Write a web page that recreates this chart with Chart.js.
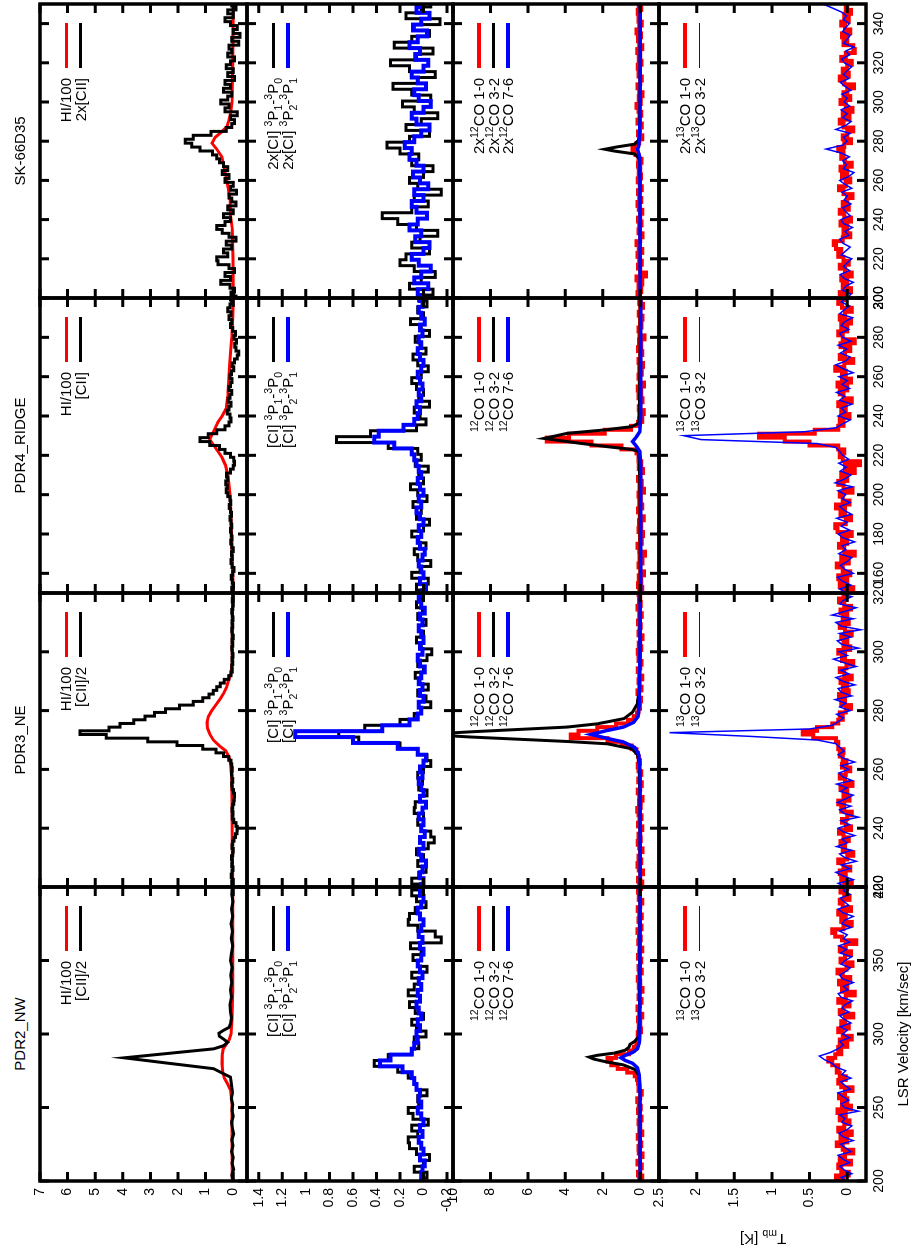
<!DOCTYPE html>
<html>
<head>
<meta charset="utf-8">
<script src="https://cdn.jsdelivr.net/npm/chart.js@4.4.1/dist/chart.umd.min.js"></script>
<style>
  html, body { margin: 0; padding: 0; background: #fff; }
  body { width: 913px; height: 1258px; overflow: hidden; position: relative; }
  /* the figure is laid out in landscape and turned a quarter turn counter-clockwise */
  #fig { position: absolute; left: 0; top: 0; width: 1258px; height: 913px;
         transform-origin: 0 0; transform: translate(0px, 1258px) rotate(-90deg);
         font-family: "Liberation Sans", Arial, Helvetica, sans-serif; color: #000; background: #fff; }
  .title { position: absolute; font-size: 15px; white-space: nowrap; transform: translate(-50%, -50%); }
  .key { position: absolute; font-size: 15px; line-height: 16px; white-space: nowrap; text-align: right; }
  .key sup, .key sub, .title sub { font-size: 70%; line-height: 0; }
  .swatch { position: absolute; }
</style>
</head>
<body>
<div id="fig"></div>
<script>
// ---------- velocity channel grids (km/s) ----------
const velNW = [200,202.5,205,207.5,210,212.5,215,217.5,220,222.5,225,227.5,230,232.5,235,237.5,240,242.5,245,247.5,250,252.5,255,257.5,260,262.5,265,267.5,270,272.5,275,277.5,280,282.5,285,287.5,290,292.5,295,297.5,300,302.5,305,307.5,310,312.5,315,317.5,320,322.5,325,327.5,330,332.5,335,337.5,340,342.5,345,347.5,350,352.5,355,357.5,360,362.5,365,367.5,370,372.5,375,377.5,380,382.5,385,387.5,390,392.5,395,397.5,400];
const velNWci = [200,204,208,212,216,220,224,228,232,236,240,244,248,252,256,260,264,268,272,276,280,284,288,292,296,300,304,308,312,316,320,324,328,332,336,340,344,348,352,356,360,364,368,372,376,380,384,388,392,396,400];
const velNE = [220,221.25,222.5,223.75,225,226.25,227.5,228.75,230,231.25,232.5,233.75,235,236.25,237.5,238.75,240,241.25,242.5,243.75,245,246.25,247.5,248.75,250,251.25,252.5,253.75,255,256.25,257.5,258.75,260,261.25,262.5,263.75,265,266.25,267.5,268.75,270,271.25,272.5,273.75,275,276.25,277.5,278.75,280,281.25,282.5,283.75,285,286.25,287.5,288.75,290,291.25,292.5,293.75,295,296.25,297.5,298.75,300,301.25,302.5,303.75,305,306.25,307.5,308.75,310,311.25,312.5,313.75,315,316.25,317.5,318.75,320];
const velNEci = [220,222,224,226,228,230,232,234,236,238,240,242,244,246,248,250,252,254,256,258,260,262,264,266,268,270,272,274,276,278,280,282,284,286,288,290,292,294,296,298,300,302,304,306,308,310,312,314,316,318,320];
const velRG = [150,152,154,156,158,160,162,164,166,168,170,172,174,176,178,180,182,184,186,188,190,192,194,196,198,200,202,204,206,208,210,212,214,216,218,220,222,224,226,228,230,232,234,236,238,240,242,244,246,248,250,252,254,256,258,260,262,264,266,268,270,272,274,276,278,280,282,284,286,288,290,292,294,296,298,300];
const velRGci = [150,153,156,159,162,165,168,171,174,177,180,183,186,189,192,195,198,201,204,207,210,213,216,219,222,225,228,231,234,237,240,243,246,249,252,255,258,261,264,267,270,273,276,279,282,285,288,291,294,297,300];
const velSK = [200,202,204,206,208,210,212,214,216,218,220,222,224,226,228,230,232,234,236,238,240,242,244,246,248,250,252,254,256,258,260,262,264,266,268,270,272,274,276,278,280,282,284,286,288,290,292,294,296,298,300,302,304,306,308,310,312,314,316,318,320,322,324,326,328,330,332,334,336,338,340,342,344,346,348,350];
const velSKci = [200,203,206,209,212,215,218,221,224,227,230,233,236,239,242,245,248,251,254,257,260,263,266,269,272,275,278,281,284,287,290,293,296,299,302,305,308,311,314,317,320,323,326,329,332,335,338,341,344,347,350];

// ---------- PDR2_NW spectra (T_mb, K) ----------
const hiNW = [[200,0.03],[230,0.04],[255,0.05],[262,0.1],[266,0.2],[270,0.32],[274,0.38],[280,0.41],[286,0.4],[290,0.36],[293,0.25],[296,0.15],[300,0.08],[310,0.04],[330,0.02],[360,0.02],[400,0.02]];
const ciiNW = [[200,0.0],[204,0.05],[208,-0.02],[212,0.04],[216,0.0],[220,0.06],[224,0.01],[228,0.05],[232,-0.02],[236,0.03],[240,0.06],[244,0.0],[248,0.04],[252,0.02],[256,0.07],[260,0.03],[264,0.05],[268,0.08],[270.7,0.1],[272.5,0.3],[276.4,0.71],[280,2.3],[283.8,3.95],[287,2.25],[289.9,0.71],[292,0.35],[294.4,0.2],[296.5,0.35],[298.5,0.5],[300.5,0.52],[302.5,0.35],[304.5,0.15],[307,0.1],[311,0.06],[315,0.1],[320,0.12],[325,0.06],[330,0.1],[335,0.05],[340,0.09],[345,0.04],[350,0.1],[355,0.06],[360,0.02],[365,0.07],[370,0.03],[375,0.08],[380,0.02],[385,0.06],[390,0.01],[395,0.05],[400,0.03]];
const ciNW10 = [0.02,-0.03,0.08,0.0,-0.05,0.06,0.12,0.13,0.05,0.1, -0.04,0.09,0.13,0.04,0.05,-0.03,0.06,0.08,0.13,0.22, 0.42,0.3,0.1,0.04,0.08,-0.02,0.06,0.1,0.0,0.07, 0.12,0.03,0.13,0.08,0.04,0.1,-0.03,0.05,0.09,0.02, 0.11,-0.15,-0.1,0.05,0.13,0.12,0.07,-0.02,0.06,0.1, 0.03];
const ciNW21 = [0.0,0.02,0.01,-0.01,0.03,0.0,0.02,0.04,0.01,0.03, 0.0,0.02,0.05,0.02,0.04,0.03,0.06,0.08,0.1,0.18, 0.37,0.28,0.1,0.08,0.05,0.06,0.03,0.05,0.02,0.04, 0.06,0.03,0.05,0.02,0.04,0.01,0.03,0.05,0.02,0.0, 0.03,0.01,0.04,0.02,0.0,0.03,0.05,0.02,0.0,0.03, 0.01];
const co12NW10 = [0.05,-0.1,0.12,0.0,-0.08,0.15,0.02,-0.12,0.08,0.1, -0.05,0.03,0.14,-0.1,0.06,0.0,0.1,-0.06,0.04,0.12, -0.03,0.08,0.16,0.0,-0.08,0.1,0.05,0.12,0.18,0.3, 0.7,1.2,1.55,1.75,1.3,0.6,0.35,0.22,0.12,0.05, 0.14,-0.04,0.08,0.0,0.12,-0.1,0.06,0.15,0.02,-0.06, 0.1,0.04,-0.12,0.08,0.0,0.14,0.05,-0.08,0.1,0.02, -0.05,0.12,0.06,-0.1,0.04,0.11,-0.02,0.07,0.15,-0.06, 0.03,0.1,-0.08,0.05,0.13,0.0,-0.1,0.08,0.02,0.12, -0.04];
const co12NW32 = [[200,0.0],[240,0.02],[265,0.03],[272,0.08],[276,0.3],[279,0.9],[281,1.8],[283,2.5],[284.3,2.73],[285.5,2.3],[287,1.4],[289,0.8],[291,0.6],[293,0.55],[295,0.3],[298,0.1],[305,0.05],[340,0.03],[400,0.02]];
const co12NW76 = [[200,0.0],[260,0.02],[272,0.05],[277,0.15],[280,0.4],[282,0.8],[283.8,1.03],[285.5,0.8],[287.5,0.4],[290,0.15],[294,0.06],[300,0.03],[400,0.0]];
const co13NW10 = [0.05,0.15,-0.02,0.08,0.12,-0.05,0.1,0.03,-0.08,0.06, 0.14,0.0,0.09,-0.06,0.12,0.04,-0.03,0.1,0.02,0.13, -0.05,0.07,0.0,0.11,0.03,-0.07,0.08,0.12,0.02,0.1, 0.14,0.12,0.2,0.25,0.16,0.08,0.12,0.0,0.1,-0.06, 0.06,0.12,-0.02,0.08,0.03,-0.08,0.1,0.05,-0.03,0.12, 0.02,-0.1,0.07,0.0,0.11,-0.04,0.06,0.13,0.01,-0.07, 0.09,0.03,-0.05,0.1,0.02,-0.12,0.07,0.16,0.2,0.05, -0.06,0.08,0.02,0.12,-0.05,0.06,0.1,-0.03,0.04,0.09, 0.0];
const co13NW32 = [0.0,0.08,-0.06,0.04,0.1,-0.03,0.06,0.12,-0.05,0.02, 0.09,-0.08,0.05,0.11,0.0,-0.06,0.07,0.03,0.1,-0.15, 0.04,0.08,-0.02,0.06,0.12,-0.04,0.03,0.09,-0.05,0.07, 0.02,0.15,0.2,0.3,0.37,0.22,0.12,0.05,0.1,-0.03, 0.06,0.0,0.09,-0.05,0.04,0.1,-0.02,0.07,0.03,-0.07, 0.08,0.12,-0.01,0.05,-0.08,0.06,0.1,0.02,-0.04,0.08, 0.03,-0.06,0.09,0.01,0.11,-0.03,0.05,0.0,0.1,-0.05, 0.07,0.03,-0.08,0.06,0.12,-0.02,0.04,0.09,-0.04,0.05, 0.02];

// ---------- PDR3_NE spectra ----------
const hiNE = [[220,0.02],[235,0.03],[250,0.04],[258,0.06],[262,0.1],[264,0.14],[266.4,0.28],[268,0.5],[270,0.72],[272,0.85],[274,0.93],[276,0.95],[278,0.9],[280,0.78],[282.3,0.6],[284,0.47],[285.8,0.35],[288,0.24],[290.3,0.17],[292.6,0.08],[296,0.04],[305,0.03],[320,0.02]];
const ciiNE = [0.02,0.05,0.03,0.07,0.04,0.01,0.05,0.03,0.06,0.02, 0.0,0.04,0.02,-0.03,-0.08,-0.14,-0.15,-0.1,-0.02,0.03, 0.01,0.04,0.02,-0.02,-0.04,-0.05,-0.01,0.03,0.05,0.02, 0.04,0.06,0.03,0.05,0.08,0.16,0.35,0.62,1.1,2.04, 3.1,4.6,5.55,4.5,4.1,3.6,3.2,2.85,2.45,1.95, 1.45,1.1,0.88,0.72,0.6,0.47,0.32,0.16,0.08,0.03, 0.05,0.02,0.04,0.01,0.03,0.05,0.02,0.04,0.0,0.03, 0.05,0.02,0.04,0.01,0.03,0.05,0.02,0.0,0.03,0.01, 0.02];
const ciNE10 = [0.03,0.1,0.04,-0.02,0.05,0.0,0.06,-0.04,-0.09,-0.06, 0.02,0.05,0.0,0.08,0.07,0.03,-0.03,0.04,0.01,0.05, 0.0,-0.06,-0.03,0.05,0.2,0.55,0.72,0.5,0.2,0.08, 0.02,-0.06,-0.02,0.05,-0.04,0.03,0.07,0.0,0.05,-0.03, -0.07,0.02,0.06,0.0,0.04,-0.02,0.05,0.01,0.06,0.02, 0.03];
const ciNE21 = [0.02,0.0,0.03,0.01,-0.02,0.02,0.04,0.0,0.03,-0.01, 0.02,0.0,0.04,0.01,-0.02,0.03,0.0,0.02,0.04,0.01, 0.03,0.0,-0.02,0.05,0.22,0.6,1.09,0.35,0.12,0.05, 0.02,0.04,0.0,0.03,0.01,0.04,0.02,-0.01,0.03,0.05, 0.01,0.03,0.0,0.02,0.04,0.01,0.03,-0.01,0.02,0.04, 0.01];
const co12NE10 = [0.05,-0.1,0.12,0.0,-0.15,0.08,0.15,-0.05,0.1,0.02, -0.12,0.06,0.14,-0.03,0.09,0.0,-0.1,0.12,0.04,-0.06, 0.1,0.16,-0.02,0.07,-0.12,0.05,0.13,0.0,-0.08,0.11, 0.03,-0.05,0.09,0.14,0.02,0.08,0.12,0.2,0.45,1.0, 1.75,3.71,3.3,2.3,1.3,0.65,0.35,0.18,0.1,0.02, 0.12,-0.04,0.07,0.15,-0.06,0.04,0.1,-0.1,0.06,0.13, 0.0,-0.07,0.09,0.03,0.14,-0.05,0.08,0.0,-0.12,0.1, 0.04,-0.03,0.12,0.06,-0.08,0.05,0.15,-0.02,0.07,0.0, 0.1];
const co12NE32 = [[220,0.0],[250,0.02],[262,0.05],[265,0.15],[267,0.45],[268.7,1.75],[269.5,3.9],[271,9.0],[271.9,11.5],[272.8,9.0],[274.4,3.9],[275.5,2.3],[277.3,0.86],[279.5,0.41],[282.3,0.16],[287,0.05],[300,0.02],[320,0.0]];
const co12NE76 = [[220,0.0],[260,0.02],[265,0.08],[267.5,0.3],[269.3,0.9],[270.6,1.8],[271.9,2.64],[273.2,1.8],[274.4,0.9],[276,0.35],[278,0.12],[282,0.05],[300,0.02],[320,0.0]];
const co13NE10 = [0.04,-0.06,0.08,0.02,0.1,-0.04,0.05,0.12,0.0,-0.08, 0.06,0.03,0.09,-0.02,0.05,0.11,-0.05,0.02,0.07,0.0, -0.06,0.08,0.04,0.12,-0.03,0.05,0.0,0.09,-0.07,0.03, 0.1,0.02,-0.04,0.07,0.01,0.06,0.1,0.05,0.12,0.12, 0.15,0.45,0.59,0.4,0.2,0.12,0.06,0.1,0.02,-0.05, 0.08,0.03,0.11,-0.02,0.06,0.0,0.09,-0.06,0.04,0.1, 0.01,-0.08,0.07,0.03,0.12,-0.04,0.05,0.0,0.08,-0.06, 0.03,0.1,-0.02,0.06,0.0,0.09,-0.05,0.04,0.11,0.02, 0.05];
const co13NE32 = [0.02,0.12,-0.08,0.05,0.15,-0.04,0.08,-0.12,0.03,0.1, -0.06,0.14,0.0,0.07,-0.1,0.05,0.12,-0.03,0.08,-0.15, 0.04,0.1,-0.05,0.13,0.02,-0.08,0.09,0.0,0.14,-0.06, 0.06,0.11,-0.02,0.08,-0.1,0.05,0.12,0.04,0.1,0.15, 0.4,1.3,2.36,0.5,0.2,0.12,0.05,0.14,-0.04,0.1, 0.02,0.16,-0.06,0.08,0.12,-0.1,0.06,0.15,-0.02,0.09, -0.12,0.04,0.18,0.0,0.11,-0.15,0.07,0.13,-0.05,0.1, -0.18,0.08,0.15,-0.08,0.2,0.03,-0.12,0.1,0.05,-0.06, 0.12];

// ---------- PDR4_RIDGE spectra ----------
const hiRG = [[150,0.0],[160,0.02],[170,0.04],[180,0.06],[190,0.08],[200,0.12],[205,0.15],[210,0.2],[215,0.28],[219,0.41],[222,0.55],[225,0.7],[228,0.85],[231,0.75],[234,0.65],[237,0.55],[240,0.4],[244,0.25],[250,0.2],[258,0.16],[265,0.13],[272,0.1],[280,0.05],[290,0.02],[300,0.0]];
const ciiRG = [0.02,0.05,-0.01,0.03,0.07,0.02,-0.03,0.04,0.08,0.03, 0.06,0.0,0.05,0.09,0.04,0.07,0.1,0.05,0.08,0.12, 0.06,0.1,0.14,0.09,0.12,0.2,0.25,0.22,0.27,0.2, 0.24,0.1,0.0,-0.05,-0.02,0.1,0.3,0.5,0.85,1.2, 0.9,0.6,0.3,0.15,0.08,0.12,0.22,0.15,0.08,0.18, 0.12,0.05,0.15,0.1,0.04,0.12,0.06,-0.02,0.03,-0.05, -0.15,-0.2,-0.1,-0.06,-0.12,-0.03,-0.08,0.02,0.1,0.05, 0.15,0.08,0.2,0.12,0.05,0.1];
const ciRG10 = [0.0,0.06,-0.04,0.1,0.03,-0.06,0.05,0.08,-0.02,0.04, 0.1,0.0,-0.05,0.06,0.02,0.09,-0.03,0.05,0.11,0.0, 0.04,-0.04,0.07,0.02,0.05,0.3,0.74,0.45,0.06,-0.02, 0.03,0.08,-0.05,0.04,0.0,0.06,0.1,0.02,-0.04,0.05, 0.09,-0.02,0.03,0.07,-0.05,0.02,0.11,0.0,0.05,-0.03, 0.04];
const ciRG21 = [0.01,-0.02,0.03,0.0,0.02,0.04,0.01,-0.01,0.03,0.05, 0.02,0.04,0.0,0.03,0.06,0.02,0.04,0.0,0.03,0.05, 0.02,0.04,0.06,0.08,0.1,0.25,0.42,0.38,0.17,0.08, 0.05,0.03,0.06,0.02,0.04,0.01,0.03,0.05,0.02,0.0, 0.03,0.05,0.02,0.04,0.01,0.03,-0.01,0.02,0.04,0.01, 0.03];
const co12RG10 = [0.05,-0.1,0.12,-0.05,0.08,-0.2,0.0,0.1,-0.12,0.04, -0.25,0.06,0.15,-0.08,0.02,-0.15,0.1,-0.05,0.07,-0.18, 0.03,0.12,-0.1,0.05,-0.03,0.1,-0.2,0.04,-0.08,0.12, 0.0,-0.15,0.08,-0.05,0.1,0.05,0.2,1.0,2.6,5.0, 3.8,1.9,0.5,0.12,-0.1,0.05,-0.18,0.08,0.0,-0.12, 0.1,-0.05,0.14,-0.2,0.03,0.09,-0.08,0.05,-0.15,0.1, 0.0,-0.1,0.12,-0.05,0.07,-0.22,0.04,0.1,-0.06,0.02, -0.12,0.08,0.0,-0.15,0.06,-0.03];
const co12RG32 = [[150,0.0],[200,0.02],[218,0.05],[222,0.1],[223,0.44],[224.4,1.75],[226.1,3.2],[228.6,5.14],[231.2,3.9],[232.9,1.93],[234.6,0.45],[236.3,0.1],[240,0.05],[270,0.02],[300,0.0]];
const co12RG76 = [[150,-0.02],[215,-0.02],[222,0.03],[224.5,0.2],[227,0.41],[229.5,0.2],[232,0.03],[240,-0.02],[300,-0.03]];
const co13RG10 = [0.05,-0.08,0.1,0.0,0.12,-0.04,0.06,0.14,-0.02,0.08, -0.1,0.04,0.11,0.0,0.07,-0.06,0.13,0.16,0.02,-0.05, 0.09,0.03,0.15,-0.03,0.06,0.1,-0.07,0.05,0.12,0.0, 0.08,-0.1,0.03,-0.17,0.06,0.1,0.04,0.12,0.5,0.83, 1.17,0.43,0.12,0.05,0.1,-0.03,0.08,0.02,0.12,-0.06, 0.05,0.1,0.0,0.13,-0.05,0.07,0.02,0.16,0.04,-0.08, 0.1,0.03,-0.04,0.09,-0.1,0.06,0.12,0.0,0.08,-0.05, 0.1,0.03,-0.06,0.07,0.12,0.02];
const co13RG32 = [0.0,0.1,-0.05,0.06,0.13,-0.08,0.03,0.09,0.0,-0.06, 0.11,0.02,0.07,-0.1,0.05,0.12,-0.03,0.08,0.0,0.14, -0.06,0.04,0.1,-0.04,0.07,0.02,0.12,-0.07,0.16,0.03, -0.05,0.09,0.01,0.11,-0.02,0.06,0.1,0.15,0.4,1.94, 2.17,0.57,0.15,0.06,-0.04,0.12,0.02,0.08,-0.06,0.1, 0.03,0.14,-0.03,0.07,0.0,0.11,-0.08,0.05,0.15,0.02, -0.04,0.09,0.0,0.12,-0.05,0.06,0.1,-0.02,0.08,0.03, -0.07,0.1,0.04,-0.03,0.08,0.01];

// ---------- SK-66D35 spectra ----------
const hiSK = [[200,0.0],[220,0.01],[235,0.03],[242,0.1],[250,0.12],[256,0.18],[260,0.23],[266,0.32],[272,0.41],[276,0.6],[279,0.77],[282,0.65],[285,0.4],[287.4,0.23],[291,0.15],[294,0.1],[300,0.04],[320,0.02],[350,0.0]];
const ciiSK = [-0.1,0.08,-0.05,0.12,0.45,0.1,0.3,-0.05,0.15,0.55, 0.6,0.2,0.35,0.05,0.25,-0.1,0.15,0.4,0.6,0.3, 0.1,0.35,0.0,0.2,-0.1,0.05,0.15,-0.12,0.1,0.0, 0.3,0.15,0.4,0.2,0.35,0.5,0.6,0.75,1.2,1.5, 1.74,1.45,0.8,0.25,0.05,-0.05,0.1,-0.15,0.3,0.15, 0.45,0.2,0.05,0.35,0.1,0.3,-0.05,0.2,0.0,0.25, 0.1,-0.05,0.2,0.05,0.15,-0.2,0.05,-0.25,0.0,-0.15, 0.1,0.3,0.0,0.2,-0.1,0.05];
const ciSK10 = [0.05,-0.08,0.12,0.02,-0.1,0.08,0.2,0.15,-0.05,0.1, 0.03,-0.12,0.06,0.22,0.35,0.1,-0.04,0.08,-0.15,0.05, 0.12,0.0,-0.08,0.1,0.04,0.2,0.31,0.12,-0.05,0.15, 0.02,-0.12,0.08,0.18,-0.06,0.1,0.26,0.05,-0.1,0.12, 0.28,0.06,-0.08,0.25,0.1,-0.05,0.08,-0.14,0.15,0.02, -0.06];
const ciSK21 = [0.0,0.05,-0.04,0.08,0.02,-0.06,0.04,0.1,0.0,-0.05, 0.07,0.02,0.12,0.05,-0.03,0.06,0.1,0.0,0.08,-0.04, 0.03,0.09,0.0,0.06,0.12,0.1,0.16,0.08,0.02,-0.05, 0.06,0.1,0.0,-0.06,0.04,0.08,-0.02,0.05,0.1,0.0, -0.04,0.07,0.03,0.12,0.05,-0.03,0.09,0.02,-0.05,0.06, 0.03];
const co12SK10 = [0.05,0.15,-0.05,0.1,-0.1,0.2,-0.3,0.0,0.12,-0.08, 0.05,0.15,-0.1,0.08,0.2,0.0,-0.12,0.1,0.05,-0.06, 0.12,0.0,-0.1,0.08,0.15,-0.05,0.06,0.12,-0.08,0.03, 0.14,-0.04,0.08,0.0,0.12,-0.06,0.1,0.25,0.41,0.2, 0.05,-0.1,0.12,0.02,-0.08,0.15,0.04,-0.05,0.1,0.2, -0.02,0.08,-0.12,0.05,0.15,0.0,-0.08,0.1,0.03,0.14, -0.06,0.08,0.0,0.16,-0.1,0.05,0.12,-0.04,0.2,0.06, -0.08,0.1,0.02,0.14,-0.05,0.08];
const co12SK32 = [[200,0.0],[260,0.02],[271,0.05],[273.5,0.3],[275,1.4],[275.9,1.89],[277,1.3],[278.5,0.3],[281,0.05],[300,0.02],[350,0.0]];
const co12SK76 = [[200,0.0],[240,0.02],[272,0.03],[274.5,0.1],[276,0.14],[277.5,0.08],[282,0.05],[290,0.02],[350,0.0]];
const co13SK10 = [0.02,0.1,-0.05,0.06,0.0,0.08,-0.06,0.03,0.1,-0.02, 0.05,0.12,0.08,0.15,0.18,0.06,-0.04,0.05,0.0,0.09, -0.05,0.04,0.1,-0.02,0.06,0.0,-0.07,0.05,0.11,0.02, -0.04,0.07,0.0,0.09,-0.06,0.03,0.08,0.05,0.12,0.04, -0.05,0.06,0.0,-0.08,0.05,0.1,-0.03,0.06,-0.07,0.02, 0.09,-0.04,0.05,0.0,-0.09,0.04,0.1,-0.02,0.06,0.0, -0.06,0.08,0.02,-0.1,-0.08,0.05,0.0,0.07,-0.04,0.03, 0.08,-0.02,0.04,-0.05,0.02,0.0];
const co13SK32 = [0.0,-0.05,0.06,0.02,-0.08,0.04,0.09,-0.03,0.05,0.0, -0.06,0.08,0.02,-0.04,0.06,0.1,-0.02,0.03,-0.07,0.05, 0.08,-0.04,0.02,0.06,-0.05,0.04,0.0,0.07,-0.06,0.03, 0.1,-0.02,-0.09,0.05,0.01,0.06,-0.03,0.08,0.28,0.06, 0.0,0.05,-0.04,0.15,0.02,-0.05,0.06,0.0,0.08,-0.03, 0.04,0.0,0.07,-0.05,0.03,0.09,-0.02,0.05,0.0,-0.06, 0.04,0.07,-0.03,0.02,-0.09,0.05,0.0,-0.04,0.06,0.02, -0.03,0.05,0.01,0.08,0.2,0.32];

// ---------- tick values ----------
const velTicksNW = [200,250,300,350,400];
const velTicksNE = [220,240,260,280,300,320];
const velTicksRG = [160,180,200,220,240,260,280,300];
const velTicksSK = [200,220,240,260,280,300,320,340];
const tmbTicksCII = [0,1,2,3,4,5,6,7];
const tmbTicksCI = [-0.2,0,0.2,0.4,0.6,0.8,1,1.2,1.4];
const tmbTicksCO12 = [0,2,4,6,8,10];
const tmbTicksCO13 = [0,0.5,1,1.5,2,2.5];

// ---------- series names ----------
const sources = ['PDR2_NW','PDR3_NE','PDR4_RIDGE','SK-66D35'];
const nameCI10 = '[CI] <sup>3</sup>P<sub>1</sub>-<sup>3</sup>P<sub>0</sub>';
const nameCI21 = '[CI] <sup>3</sup>P<sub>2</sub>-<sup>3</sup>P<sub>1</sub>';
const name12_10 = '<sup>12</sup>CO 1-0', name12_32 = '<sup>12</sup>CO 3-2', name12_76 = '<sup>12</sup>CO 7-6';
const name13_10 = '<sup>13</sup>CO 1-0', name13_32 = '<sup>13</sup>CO 3-2';

// ---------- layout ----------
const colEdges = [77, 371, 665, 960, 1254];
const rowEdges = [40, 247, 453, 659, 866];
const RED = '#ff0000', BLACK = '#000000', BLUE = '#0000ff';
const FONT = "'Liberation Sans', Arial, Helvetica, sans-serif";

const columns = [
  { vmin: 200, vmax: 400, ticks: velTicksNW },
  { vmin: 220, vmax: 320, ticks: velTicksNE },
  { vmin: 150, vmax: 300, ticks: velTicksRG },
  { vmin: 200, vmax: 350, ticks: velTicksSK }
];
const rows = [
  { min: -0.5, max: 7, ticks: tmbTicksCII },
  { min: -0.25, max: 1.5, ticks: tmbTicksCI },
  { min: -1, max: 10, ticks: tmbTicksCO12 },
  { min: -0.25, max: 2.5, ticks: tmbTicksCO13 }
];

// histogram-style spectrum on a channel grid
const S = (label, color, w, xs, ys) => ({ label, color, w, step: true, data: ys.map((y, i) => ({ x: xs[i], y })) });
// spectrum on a channel grid, joined point to point
const L = (label, color, w, xs, ys) => ({ label, color, w, step: false, data: ys.map((y, i) => ({ x: xs[i], y })) });
// spectrum given as (velocity, T) pairs, drawn as a line
const P = (label, color, w, pairs) => ({ label, color, w, step: false, data: pairs.map(([x, y]) => ({ x, y })) });

const panels = [
  [
    [P('HI/100', RED, 3, hiNW), P('[CII]/2', BLACK, 3, ciiNW)],
    [P('HI/100', RED, 3, hiNE), S('[CII]/2', BLACK, 3, velNE, ciiNE)],
    [P('HI/100', RED, 3, hiRG), S('[CII]', BLACK, 3, velRG, ciiRG)],
    [P('HI/100', RED, 3, hiSK), S('2x[CII]', BLACK, 3, velSK, ciiSK)]
  ],
  [
    [S(nameCI10, BLACK, 3, velNWci, ciNW10), S(nameCI21, BLUE, 4, velNWci, ciNW21)],
    [S(nameCI10, BLACK, 3, velNEci, ciNE10), S(nameCI21, BLUE, 4, velNEci, ciNE21)],
    [S(nameCI10, BLACK, 3, velRGci, ciRG10), S(nameCI21, BLUE, 4, velRGci, ciRG21)],
    [S('2x' + nameCI10, BLACK, 3, velSKci, ciSK10), S('2x' + nameCI21, BLUE, 4, velSKci, ciSK21)]
  ],
  [
    [S(name12_10, RED, 4, velNW, co12NW10), P(name12_32, BLACK, 3, co12NW32), P(name12_76, BLUE, 3.5, co12NW76)],
    [S(name12_10, RED, 4, velNE, co12NE10), P(name12_32, BLACK, 3, co12NE32), P(name12_76, BLUE, 3.5, co12NE76)],
    [S(name12_10, RED, 4, velRG, co12RG10), P(name12_32, BLACK, 3, co12RG32), P(name12_76, BLUE, 3.5, co12RG76)],
    [S('2x' + name12_10, RED, 4, velSK, co12SK10), P('2x' + name12_32, BLACK, 3, co12SK32), P('2x' + name12_76, BLUE, 3.5, co12SK76)]
  ],
  [
    [S(name13_10, RED, 4, velNW, co13NW10), L(name13_32, BLUE, 1.5, velNW, co13NW32)],
    [S(name13_10, RED, 4, velNE, co13NE10), L(name13_32, BLUE, 1.5, velNE, co13NE32)],
    [S(name13_10, RED, 4, velRG, co13RG10), L(name13_32, BLUE, 1.5, velRG, co13RG32)],
    [S('2x' + name13_10, RED, 4, velSK, co13SK10), L('2x' + name13_32, BLUE, 1.5, velSK, co13SK32)]
  ]
];

// frame with inward tick marks on all four sides of each panel
const TICK = 9;
const framePlugin = {
  id: 'frame',
  afterDatasetsDraw(chart) {
    const { ctx, chartArea: a, scales: { x, y } } = chart;
    ctx.save();
    ctx.strokeStyle = '#000';
    ctx.lineWidth = 3;
    ctx.beginPath();
    for (const t of x.ticks) {
      const px = x.getPixelForValue(t.value);
      ctx.moveTo(px, a.bottom); ctx.lineTo(px, a.bottom - TICK);
      ctx.moveTo(px, a.top); ctx.lineTo(px, a.top + TICK);
    }
    for (const t of y.ticks) {
      const py = y.getPixelForValue(t.value);
      ctx.moveTo(a.left, py); ctx.lineTo(a.left + TICK, py);
      ctx.moveTo(a.right, py); ctx.lineTo(a.right - TICK, py);
    }
    ctx.stroke();
    ctx.lineWidth = 3.5;
    ctx.strokeRect(a.left, a.top, a.right - a.left, a.bottom - a.top);
    ctx.restore();
  }
};

const fig = document.getElementById('fig');
const PAD_L = 45, PAD_T = 12, PAD_R = 25, PAD_B = 35;

rows.forEach((row, r) => columns.forEach((col, c) => {
  const px = colEdges[c], pw = colEdges[c + 1] - px;
  const py = rowEdges[r], ph = rowEdges[r + 1] - py;
  const cv = document.createElement('canvas');
  cv.width = pw + PAD_L + PAD_R;
  cv.height = ph + PAD_T + PAD_B;
  cv.style.cssText = `position:absolute;left:${px - PAD_L}px;top:${py - PAD_T}px;width:${cv.width}px;height:${cv.height}px;`;
  fig.appendChild(cv);

  const list = panels[r][c];
  new Chart(cv, {
    type: 'line',
    data: {
      datasets: list.map((s, i) => ({
        label: s.label, data: s.data, borderColor: s.color, borderWidth: s.w,
        stepped: s.step ? 'middle' : false, pointRadius: 0, fill: false, tension: 0, order: -i
      }))
    },
    options: {
      responsive: false, animation: false, devicePixelRatio: 1, events: [],
      layout: { autoPadding: false, padding: { left: 0, top: PAD_T, right: PAD_R, bottom: 0 } },
      plugins: { legend: { display: false }, tooltip: { enabled: false } },
      scales: {
        x: {
          type: 'linear', min: col.vmin, max: col.vmax, bounds: 'data',
          grid: { display: false, drawTicks: false }, border: { display: false },
          ticks: { display: r === rows.length - 1, autoSkip: false, maxRotation: 0, minRotation: 0,
                   padding: 5, color: '#000', font: { family: FONT, size: 14 }, callback: v => String(v) },
          afterBuildTicks: s => { s.ticks = col.ticks.map(v => ({ value: v })); },
          afterFit: s => { s.height = PAD_B; s.paddingLeft = 0; s.paddingRight = 0; }
        },
        y: {
          type: 'linear', min: row.min, max: row.max, bounds: 'data',
          grid: { display: false, drawTicks: false }, border: { display: false },
          ticks: { display: c === 0, autoSkip: false, padding: 7, color: '#000',
                   font: { family: FONT, size: 14 }, callback: v => String(v) },
          afterBuildTicks: s => { s.ticks = row.ticks.map(v => ({ value: v })); },
          afterFit: s => { s.width = PAD_L; s.paddingTop = 0; s.paddingBottom = 0; }
        }
      }
    },
    plugins: [framePlugin]
  });

  // key: text right-aligned, line sample to its right, in the panel's upper right corner
  list.forEach((s, i) => {
    const ky = py + 26 + 14.5 * i;
    const txt = document.createElement('div');
    txt.className = 'key';
    txt.style.left = px + 'px';
    txt.style.width = (pw - 74) + 'px';
    txt.style.top = (ky - 8) + 'px';
    txt.innerHTML = s.label;
    fig.appendChild(txt);
    const sw = document.createElement('div');
    sw.className = 'swatch';
    sw.style.cssText = `left:${px + pw - 64}px;top:${ky - s.w / 2}px;width:45px;height:${s.w}px;background:${s.color};`;
    fig.appendChild(sw);
  });
}));

// source names above each column
sources.forEach((name, c) => {
  const d = document.createElement('div');
  d.className = 'title';
  d.textContent = name;
  d.style.left = ((colEdges[c] + colEdges[c + 1]) / 2) + 'px';
  d.style.top = '19px';
  fig.appendChild(d);
});

// axis titles
const xt = document.createElement('div');
xt.className = 'title';
xt.textContent = 'LSR Velocity [km/sec]';
xt.style.left = ((colEdges[0] + colEdges[1]) / 2) + 'px';
xt.style.top = '902px';
fig.appendChild(xt);

const yt = document.createElement('div');
yt.className = 'title';
yt.innerHTML = 'T<sub>mb</sub> [K]';
yt.style.left = '18px';
yt.style.top = ((rowEdges[3] + rowEdges[4]) / 2) + 'px';
yt.style.transform = 'translate(-50%, -50%) rotate(-90deg)';
fig.appendChild(yt);
</script>
</body>
</html>
